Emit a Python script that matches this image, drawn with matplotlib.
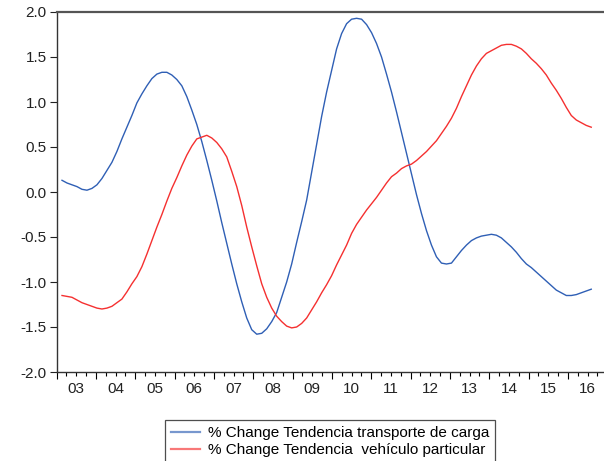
import matplotlib
matplotlib.use("Agg")
import matplotlib.pyplot as plt
import matplotlib.transforms as mtransforms
from matplotlib.ticker import MultipleLocator, FixedLocator, NullFormatter, FormatStrFormatter

plt.rcParams['font.family'] = ['Liberation Sans', 'DejaVu Sans']

# decimal-year positions of the observations
dates = [2003.140, 2003.267, 2003.393, 2003.520, 2003.647, 2003.774, 2003.901, 2004.028,
         2004.155, 2004.282, 2004.409, 2004.535, 2004.662, 2004.789, 2004.916, 2005.043,
         2005.170, 2005.297, 2005.424, 2005.551, 2005.678, 2005.805, 2005.931, 2006.058,
         2006.185, 2006.312, 2006.439, 2006.566, 2006.693, 2006.820, 2006.947, 2007.074,
         2007.200, 2007.327, 2007.454, 2007.581, 2007.708, 2007.835, 2007.962, 2008.089,
         2008.216, 2008.343, 2008.470, 2008.596, 2008.723, 2008.850, 2008.977, 2009.104,
         2009.231, 2009.358, 2009.485, 2009.612, 2009.739, 2009.865, 2009.992, 2010.119,
         2010.246, 2010.373, 2010.500, 2010.627, 2010.754, 2010.881, 2011.008, 2011.134,
         2011.261, 2011.388, 2011.515, 2011.642, 2011.769, 2011.896, 2012.023, 2012.150,
         2012.277, 2012.404, 2012.530, 2012.657, 2012.784, 2012.911, 2013.038, 2013.165,
         2013.292, 2013.419, 2013.546, 2013.673, 2013.799, 2013.926, 2014.053, 2014.180,
         2014.307, 2014.434, 2014.561, 2014.688, 2014.815, 2014.942, 2015.068, 2015.195,
         2015.322, 2015.449, 2015.576, 2015.703, 2015.830, 2015.957, 2016.084, 2016.211,
         2016.337, 2016.464, 2016.591]

carga = [0.13, 0.10, 0.08, 0.06, 0.03, 0.02, 0.04, 0.08,
         0.15, 0.24, 0.33, 0.45, 0.59, 0.72, 0.85, 0.99,
         1.09, 1.18, 1.26, 1.31, 1.33, 1.33, 1.30, 1.25,
         1.18, 1.06, 0.91, 0.75, 0.56, 0.35, 0.13, -0.10,
         -0.34, -0.57, -0.80, -1.02, -1.22, -1.40, -1.53, -1.58,
         -1.57, -1.52, -1.44, -1.34, -1.17, -1.00, -0.80, -0.56,
         -0.33, -0.09, 0.22, 0.53, 0.84, 1.11, 1.35, 1.59,
         1.76, 1.87, 1.92, 1.93, 1.92, 1.86, 1.77, 1.65,
         1.50, 1.31, 1.11, 0.89, 0.66, 0.43, 0.20, -0.03,
         -0.24, -0.43, -0.59, -0.72, -0.79, -0.80, -0.79, -0.72,
         -0.65, -0.59, -0.54, -0.51, -0.49, -0.48, -0.47, -0.48,
         -0.51, -0.56, -0.61, -0.67, -0.74, -0.80, -0.84, -0.89,
         -0.94, -0.99, -1.04, -1.09, -1.12, -1.15, -1.15, -1.14,
         -1.12, -1.10, -1.08]

particular = [-1.15, -1.16, -1.17, -1.20, -1.23, -1.25, -1.27, -1.29,
              -1.30, -1.29, -1.27, -1.23, -1.19, -1.11, -1.02, -0.94,
              -0.83, -0.69, -0.54, -0.39, -0.25, -0.10, 0.04, 0.16,
              0.29, 0.41, 0.51, 0.59, 0.61, 0.63, 0.60, 0.55,
              0.48, 0.39, 0.23, 0.06, -0.15, -0.39, -0.61, -0.82,
              -1.02, -1.17, -1.29, -1.38, -1.44, -1.49, -1.51, -1.50,
              -1.46, -1.40, -1.31, -1.22, -1.12, -1.03, -0.93, -0.81,
              -0.70, -0.59, -0.46, -0.36, -0.28, -0.20, -0.13, -0.06,
              0.02, 0.10, 0.17, 0.21, 0.26, 0.29, 0.31, 0.35,
              0.40, 0.45, 0.51, 0.57, 0.65, 0.73, 0.82, 0.93,
              1.06, 1.18, 1.30, 1.40, 1.48, 1.54, 1.57, 1.60,
              1.63, 1.64, 1.64, 1.62, 1.59, 1.54, 1.48, 1.43,
              1.37, 1.30, 1.21, 1.13, 1.04, 0.94, 0.85, 0.80,
              0.77, 0.74, 0.72]

year_labels = ['03', '04', '05', '06', '07', '08', '09', '10',
               '11', '12', '13', '14', '15', '16']
first_year = 2003

fig = plt.figure(figsize=(6.04, 4.61), dpi=100)
ax = fig.add_axes([56.5 / 604, (461 - 372) / 461, (604 - 56.5) / 604 + 0.002, 360 / 461])

l1, = ax.plot(dates, carga, color='#2F5FB5', lw=1.0)
l2, = ax.plot(dates, particular, color='#F53030', lw=1.0)

ax.set_ylim(-2.0, 2.0)
ax.set_xlim(2003.0, 2003.0 + (604 - 56.5) / 39.4 + 0.05)
ax.yaxis.set_major_locator(MultipleLocator(0.5))
ax.yaxis.set_major_formatter(FormatStrFormatter('%.1f'))

major = [first_year + i for i in range(len(year_labels) + 1)]
ax.xaxis.set_major_locator(FixedLocator(major))
ax.xaxis.set_major_formatter(NullFormatter())
ax.xaxis.set_minor_locator(FixedLocator([first_year + i * 0.25 for i in range(4 * len(year_labels) + 4)]))
ax.xaxis.set_minor_formatter(NullFormatter())
lab_tr = mtransforms.offset_copy(ax.transData, fig=fig, x=0, y=-7, units='points')
for i, lab in enumerate(year_labels):
    ax.text(first_year + i + 0.5, -2.0, lab, transform=lab_tr,
            ha='center', va='top', fontsize=11, color='#222222', clip_on=False)

ax.tick_params(axis='y', which='major', direction='out', length=5, width=0.8,
               labelsize=11, colors='#222222', pad=2)
ax.tick_params(axis='x', which='major', direction='out', length=5, width=0.8)
ax.tick_params(axis='x', which='minor', direction='out', length=3, width=0.8)

for s in ['left', 'bottom', 'top']:
    ax.spines[s].set_color('#333333')
    ax.spines[s].set_linewidth(1.0)
ax.spines['top'].set_linewidth(1.6)
ax.spines['top'].set_color('#555555')
ax.spines['right'].set_visible(False)

leg = fig.legend([l1, l2],
                 ['% Change Tendencia transporte de carga',
                  '% Change Tendencia  vehículo particular'],
                 loc='upper center', bbox_to_anchor=(330 / 604, (461 - 420) / 461),
                 fontsize=11, frameon=True, fancybox=False, handlelength=1.9,
                 handletextpad=0.5, borderpad=0.4, labelspacing=0.2,
                 edgecolor='#222222', borderaxespad=0)
leg.get_frame().set_linewidth(0.9)
for h in leg.get_lines():
    h.set_linewidth(1.6)
    h.set_alpha(0.65)

fig.savefig('out.png', dpi=100)
